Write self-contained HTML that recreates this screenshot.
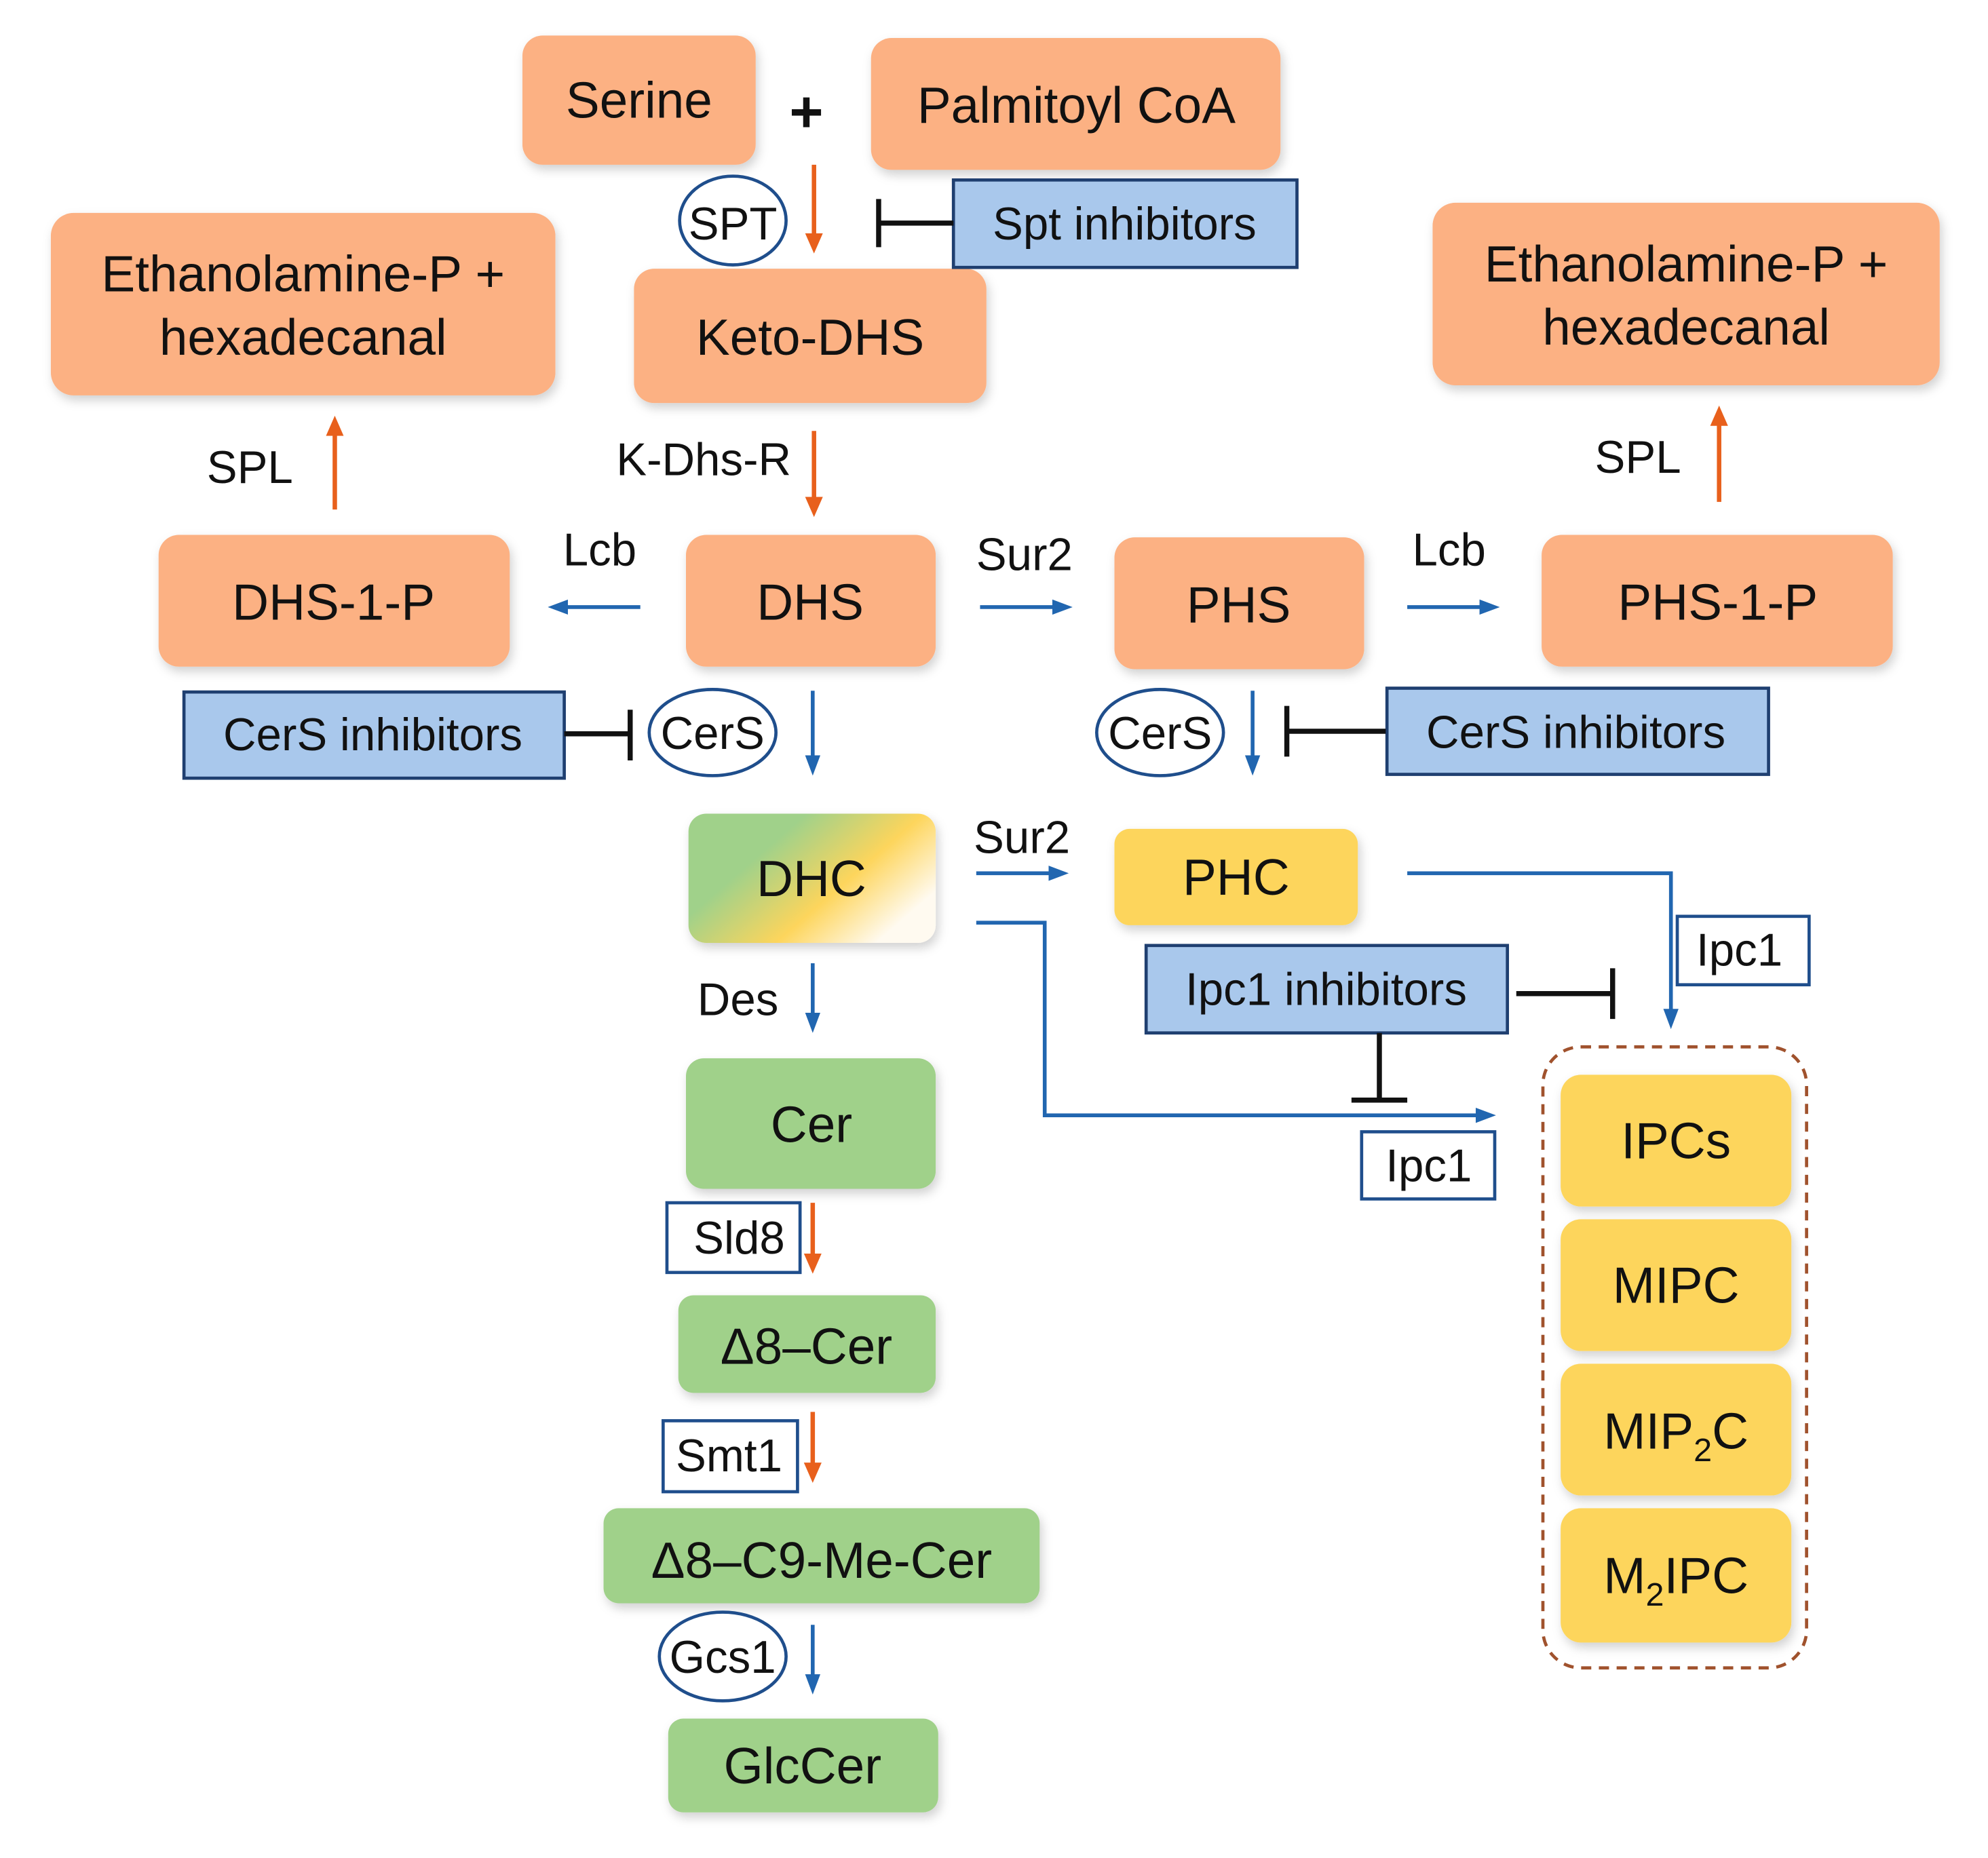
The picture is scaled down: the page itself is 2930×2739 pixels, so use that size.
<!DOCTYPE html>
<html><head><meta charset="utf-8"><style>
html,body{margin:0;padding:0;background:#fff;}
svg{display:block;}
text{font-family:"Liberation Sans",sans-serif;fill:#111;}
</style></head><body>
<svg width="2930" height="2739" viewBox="0 0 1568 1466" xmlns="http://www.w3.org/2000/svg">
<defs>
<filter id="sh" x="-10%" y="-10%" width="130%" height="140%"><feDropShadow dx="2" dy="4" stdDeviation="4" flood-color="#000" flood-opacity="0.18"/></filter>
<linearGradient id="dg" x1="0" y1="0" x2="1" y2="0.6"><stop offset="0.35" stop-color="#a0d18a"/><stop offset="0.7" stop-color="#fdd55c"/><stop offset="1" stop-color="#fffaf0"/></linearGradient>
<marker id="ab" markerWidth="16" markerHeight="14" refX="8" refY="7" orient="auto" markerUnits="userSpaceOnUse"><path d="M0,1 L16,7 L0,13 Z" fill="#2166b0"/></marker>
<marker id="ao2" markerWidth="16" markerHeight="16" refX="8" refY="8" orient="auto" markerUnits="userSpaceOnUse"><path d="M0,1 L16,8 L0,15 Z" fill="#e8601c"/></marker>
</defs>
<g filter="url(#sh)">
<rect x="412" y="28" width="184" height="102" rx="16" fill="#fcb183"/>
<rect x="687" y="30" width="323" height="104" rx="16" fill="#fcb183"/>
<rect x="40" y="168" width="398" height="144" rx="18" fill="#fcb183"/>
<rect x="500" y="212" width="278" height="106" rx="16" fill="#fcb183"/>
<rect x="1130" y="160" width="400" height="144" rx="18" fill="#fcb183"/>
<rect x="125" y="422" width="277" height="104" rx="16" fill="#fcb183"/>
<rect x="541" y="422" width="197" height="104" rx="16" fill="#fcb183"/>
<rect x="879" y="424" width="197" height="104" rx="16" fill="#fcb183"/>
<rect x="1216" y="422" width="277" height="104" rx="16" fill="#fcb183"/>
<rect x="543" y="642" width="195" height="102" rx="14" fill="url(#dg)"/>
<rect x="879" y="654" width="192" height="76" rx="12" fill="#fdd55c"/>
<rect x="541" y="835" width="197" height="103" rx="14" fill="#a0d18a"/>
<rect x="535" y="1022" width="203" height="77" rx="12" fill="#a0d18a"/>
<rect x="476" y="1190" width="344" height="75" rx="12" fill="#a0d18a"/>
<rect x="527" y="1356" width="213" height="74" rx="12" fill="#a0d18a"/>
<rect x="1231" y="848" width="182" height="104" rx="16" fill="#fdd55c"/>
<rect x="1231" y="962" width="182" height="104" rx="16" fill="#fdd55c"/>
<rect x="1231" y="1076" width="182" height="104" rx="16" fill="#fdd55c"/>
<rect x="1231" y="1190" width="182" height="106" rx="16" fill="#fdd55c"/>
</g>
<rect x="1217" y="826" width="208" height="490" rx="30" fill="none" stroke="#a0522d" stroke-width="2.5" stroke-dasharray="8,6"/>
<g fill="#a9c8ec" stroke="#1f3f70" stroke-width="2.5">
<rect x="752" y="142" width="271" height="69"/>
<rect x="145" y="546" width="300" height="68"/>
<rect x="1094" y="543" width="301" height="68"/>
<rect x="904" y="746" width="285" height="69"/>
</g>
<g fill="#fff" stroke="#1f4e8c" stroke-width="2.5">
<rect x="1323" y="723" width="104" height="54"/>
<rect x="1074" y="893" width="105" height="53"/>
<rect x="526" y="949" width="105" height="55"/>
<rect x="523" y="1121" width="106" height="56"/>
<ellipse cx="578" cy="174" rx="42" ry="35"/>
<ellipse cx="562" cy="578" rx="50" ry="34"/>
<ellipse cx="915" cy="578" rx="50" ry="34"/>
<ellipse cx="570" cy="1307" rx="50" ry="35"/>
</g>
<g stroke="#e8601c" stroke-width="3.5" fill="none">
<line x1="642" y1="130" x2="642" y2="192" marker-end="url(#ao2)"/>
<line x1="642" y1="340" x2="642" y2="400" marker-end="url(#ao2)"/>
<line x1="264" y1="402" x2="264" y2="336" marker-end="url(#ao2)"/>
<line x1="1356" y1="396" x2="1356" y2="328" marker-end="url(#ao2)"/>
<line x1="641" y1="949" x2="641" y2="997" marker-end="url(#ao2)"/>
<line x1="641" y1="1114" x2="641" y2="1162" marker-end="url(#ao2)"/>
</g>
<g stroke="#2166b0" stroke-width="3" fill="none">
<line x1="505" y1="479" x2="440" y2="479" marker-end="url(#ab)"/>
<line x1="773" y1="479" x2="838" y2="479" marker-end="url(#ab)"/>
<line x1="1110" y1="479" x2="1175" y2="479" marker-end="url(#ab)"/>
<line x1="641" y1="545" x2="641" y2="604" marker-end="url(#ab)"/>
<line x1="988" y1="545" x2="988" y2="604" marker-end="url(#ab)"/>
<line x1="770" y1="689" x2="835" y2="689" marker-end="url(#ab)"/>
<line x1="641" y1="760" x2="641" y2="807" marker-end="url(#ab)"/>
<line x1="641" y1="1282" x2="641" y2="1329" marker-end="url(#ab)"/>
<polyline points="1110,689 1318,689 1318,804" marker-end="url(#ab)"/>
<polyline points="770,728 824,728 824,880 1172,880" marker-end="url(#ab)"/>
</g>
<g stroke="#111" stroke-width="4" fill="none">
<line x1="752" y1="176" x2="693" y2="176"/><line x1="693" y1="157" x2="693" y2="195"/>
<line x1="445" y1="579" x2="497" y2="579"/><line x1="497" y1="560" x2="497" y2="600"/>
<line x1="1093" y1="577" x2="1015" y2="577"/><line x1="1015" y1="557" x2="1015" y2="597"/>
<line x1="1196" y1="784" x2="1272" y2="784"/><line x1="1272" y1="764" x2="1272" y2="804"/>
<line x1="1088" y1="815" x2="1088" y2="868"/><line x1="1066" y1="868" x2="1110" y2="868"/>
</g>
<g font-size="40" text-anchor="middle">
<text x="504" y="93">Serine</text>
<text x="636" y="104" font-size="46" font-weight="bold">+</text>
<text x="849" y="97">Palmitoyl CoA</text>
<text x="239" y="230">Ethanolamine-P +</text>
<text x="239" y="280">hexadecanal</text>
<text x="639" y="280">Keto-DHS</text>
<text x="1330" y="222">Ethanolamine-P +</text>
<text x="1330" y="272">hexadecanal</text>
<text x="263" y="489">DHS-1-P</text>
<text x="639" y="489">DHS</text>
<text x="977" y="491">PHS</text>
<text x="1355" y="489">PHS-1-P</text>
<text x="640" y="707">DHC</text>
<text x="975" y="706">PHC</text>
<text x="640" y="901">Cer</text>
<text x="636" y="1076">Δ8–Cer</text>
<text x="648" y="1245">Δ8–C9-Me-Cer</text>
<text x="633" y="1407">GlcCer</text>
<text x="1322" y="914">IPCs</text>
<text x="1322" y="1028">MIPC</text>
<text x="1322" y="1143">MIP<tspan font-size="26" dy="10">2</tspan><tspan dy="-10">C</tspan></text>
<text x="1322" y="1257">M<tspan font-size="26" dy="10">2</tspan><tspan dy="-10">IPC</tspan></text>
</g>
<g font-size="36" text-anchor="middle">
<text x="887" y="189">Spt inhibitors</text>
<text x="294" y="592">CerS inhibitors</text>
<text x="1243" y="590">CerS inhibitors</text>
<text x="1046" y="793">Ipc1 inhibitors</text>
<text x="578" y="189">SPT</text>
<text x="562" y="591">CerS</text>
<text x="915" y="591">CerS</text>
<text x="570" y="1320">Gcs1</text>
<text x="1372" y="762">Ipc1</text>
<text x="1127" y="932">Ipc1</text>
<text x="583" y="989">Sld8</text>
<text x="575" y="1161">Smt1</text>
<text x="197" y="381">SPL</text>
<text x="555" y="375">K-Dhs-R</text>
<text x="1292" y="373">SPL</text>
<text x="473" y="446">Lcb</text>
<text x="808" y="450">Sur2</text>
<text x="1143" y="446">Lcb</text>
<text x="806" y="673">Sur2</text>
<text x="582" y="801">Des</text>
</g>
</svg>
</body></html>
